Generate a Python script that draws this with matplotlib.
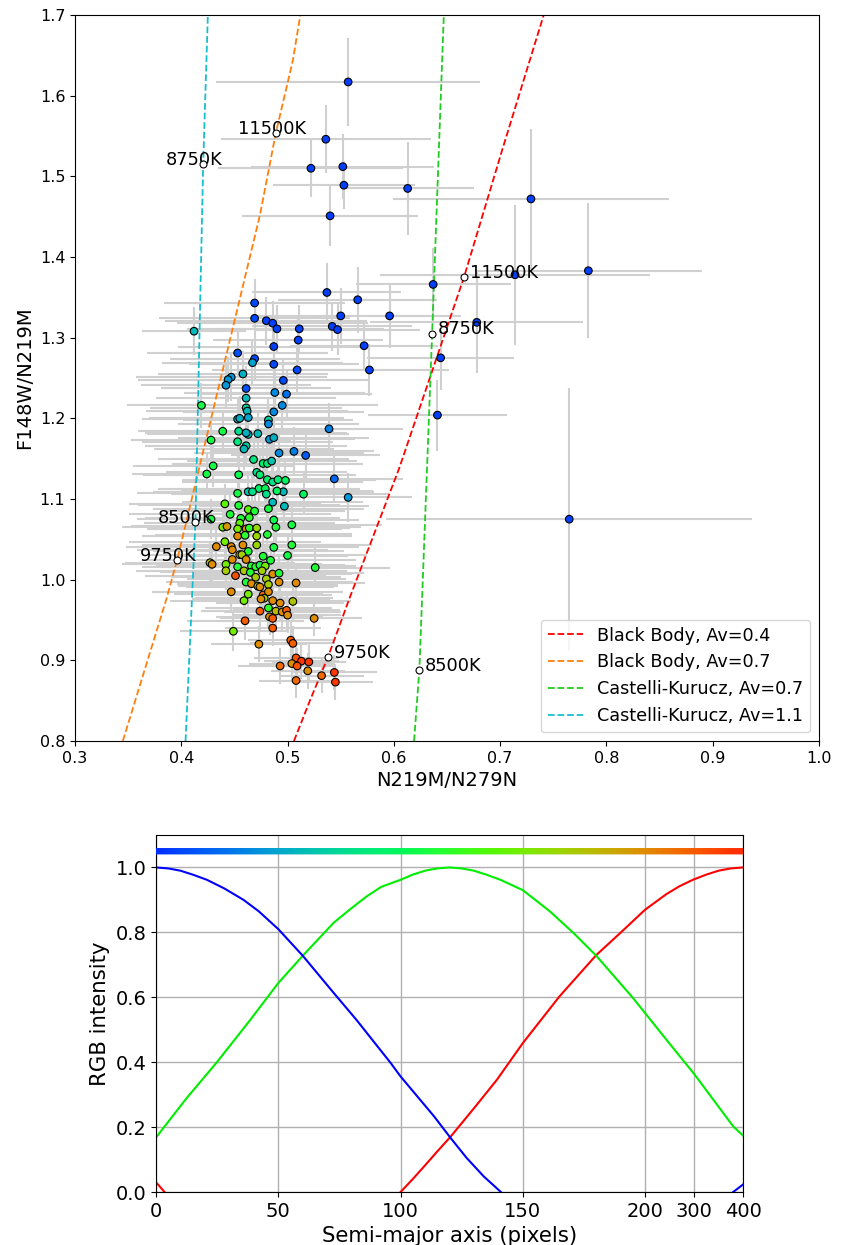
import numpy as np
import matplotlib
matplotlib.use("Agg")
import matplotlib.pyplot as plt

# ---------------- colour curves (bottom panel), u = display coordinate of semi-major axis
red_u = [0, 3.5, 50, 100, 105, 110, 115, 120.4, 130, 139.4, 150, 165, 180, 189.8, 200, 208.7, 214, 219.5, 225, 230, 235, 240]
red_v = [0.03, 0.0, np.nan, 0.0, 0.04, 0.082, 0.125, 0.17, 0.258, 0.346, 0.459, 0.603, 0.73, 0.798, 0.870, 0.918, 0.942, 0.962, 0.978, 0.99, 0.997, 1.0]
grn_u = [0, 12.6, 24.9, 38.5, 50, 60, 72.7, 80, 86, 92, 100, 105, 110, 115, 120, 125, 130, 135, 140.8, 150,
         161, 170.7, 180, 195, 200, 208.7, 220, 236, 240]
grn_v = [0.168, 0.29, 0.40, 0.53, 0.644, 0.728, 0.83, 0.875, 0.91, 0.94, 0.962, 0.978, 0.99, 0.997, 1.0, 0.997, 0.99, 0.978, 0.962, 0.93,
         0.865, 0.798, 0.728, 0.598, 0.551, 0.469, 0.364, 0.202, 0.174]
blu_u = [0, 5, 10, 15, 20.8, 28, 35.8, 42, 50, 60, 72.7, 82, 96, 100, 113.7, 120.5, 127, 134, 141, 190, 236, 240]
blu_v = [1.0, 0.997, 0.99, 0.978, 0.962, 0.935, 0.90, 0.865, 0.81, 0.728, 0.613, 0.53, 0.397, 0.356, 0.233, 0.166, 0.105, 0.048, 0.0, np.nan, 0.0, 0.023]

tick_pos = [0, 50, 100, 150, 200, 220, 240]
tick_lab = ["0", "50", "100", "150", "200", "300", "400"]


def colour_of(u):
    u = np.asarray(u, dtype=float)
    r = np.interp(u, red_u, np.nan_to_num(red_v))
    g = np.interp(u, grn_u, np.nan_to_num(grn_v))
    b = np.interp(u, blu_u, np.nan_to_num(blu_v))
    return np.clip(np.stack([r, g, b], axis=-1), 0, 1)


# ---------------- model tracks (top panel)
bb04_x = [0.506, 0.521, 0.538, 0.558, 0.605, 0.666, 0.702, 0.741]
bb04_y = [0.80, 0.85, 0.904, 0.976, 1.138, 1.375, 1.533, 1.70]
bb07_x = [0.345, 0.386, 0.396, 0.474, 0.489, 0.505, 0.512]
bb07_y = [0.80, 0.976, 1.024, 1.452, 1.554, 1.644, 1.70]
ck07_x = [0.619, 0.624, 0.636, 0.647]
ck07_y = [0.80, 0.888, 1.305, 1.70]
ck11_x = [0.404, 0.4133, 0.4206, 0.425]
ck11_y = [0.80, 1.071, 1.515, 1.70]

# temperature markers
tm_x = [0.666, 0.538, 0.489, 0.396, 0.636, 0.624, 0.4206, 0.4133]
tm_y = [1.375, 0.904, 1.554, 1.024, 1.305, 0.888, 1.515, 1.071]
tm_lab = ["11500K", "9750K", "11500K", "9750K", "8750K", "8500K", "8750K", "8500K"]
tm_side = ["r", "r", "l", "l", "r", "r", "l", "l"]

# ---------------- observed points: upper blue group
bx = [0.557, 0.536, 0.522, 0.552, 0.553, 0.613, 0.540, 0.729, 0.783, 0.714,
      0.637, 0.678, 0.644, 0.641, 0.765, 0.537, 0.566, 0.596, 0.550, 0.480,
      0.486, 0.490, 0.511, 0.542, 0.547, 0.510, 0.487, 0.572, 0.577, 0.469,
      0.469, 0.453, 0.469, 0.487, 0.509, 0.496, 0.461, 0.517, 0.544, 0.539, 0.506]
by = [1.617, 1.546, 1.510, 1.512, 1.489, 1.485, 1.451, 1.472, 1.383, 1.378,
      1.366, 1.319, 1.275, 1.204, 1.075, 1.356, 1.347, 1.327, 1.327, 1.321,
      1.318, 1.311, 1.311, 1.314, 1.310, 1.297, 1.289, 1.290, 1.260, 1.343,
      1.324, 1.281, 1.274, 1.267, 1.260, 1.247, 1.237, 1.154, 1.125, 1.187, 1.159]
bxe = [0.124, 0.099, 0.087, 0.086, 0.067, 0.062, 0.083, 0.130, 0.107, 0.127,
       0.073, 0.100, 0.069, 0.065, 0.172, 0.070, 0.075, 0.067, 0.080, 0.095,
       0.090, 0.085, 0.080, 0.075, 0.078, 0.080, 0.090, 0.070, 0.075, 0.085,
       0.090, 0.085, 0.080, 0.080, 0.080, 0.080, 0.080, 0.070, 0.065, 0.070, 0.075]
bye = [0.054, 0.042, 0.036, 0.040, 0.030, 0.058, 0.037, 0.087, 0.084, 0.087,
       0.045, 0.063, 0.040, 0.044, 0.163, 0.036, 0.041, 0.040, 0.035, 0.030,
       0.028, 0.030, 0.030, 0.030, 0.032, 0.028, 0.028, 0.030, 0.032, 0.030,
       0.028, 0.028, 0.028, 0.028, 0.028, 0.028, 0.028, 0.030, 0.030, 0.032, 0.030]
bu = [8, 8, 8, 8, 8, 8, 8, 8, 8, 8,
      8, 8, 8, 8, 8, 8, 8, 8, 8, 8,
      8, 8, 8, 8, 8, 8, 8, 8, 8, 12,
      12, 15, 12, 12, 12, 12, 15, 20, 25, 35, 35]

# ---------------- observed points: teal / green upper cloud
tx = [0.412, 0.467, 0.458, 0.447, 0.444, 0.442, 0.488, 0.499, 0.495, 0.461,
      0.419, 0.461, 0.487, 0.462, 0.453, 0.455, 0.463, 0.482, 0.463, 0.482,
      0.439, 0.454, 0.461, 0.472, 0.483, 0.487, 0.428, 0.453, 0.461, 0.459,
      0.492, 0.468, 0.477, 0.481, 0.485, 0.430, 0.424, 0.454, 0.471, 0.474,
      0.481, 0.486, 0.491, 0.498, 0.557, 0.515, 0.496, 0.490, 0.473, 0.479,
      0.463, 0.467, 0.453, 0.480]
ty = [1.308, 1.269, 1.255, 1.251, 1.248, 1.241, 1.232, 1.230, 1.216, 1.225,
      1.216, 1.213, 1.208, 1.209, 1.199, 1.200, 1.201, 1.198, 1.180, 1.193,
      1.184, 1.184, 1.182, 1.181, 1.174, 1.176, 1.173, 1.171, 1.166, 1.162,
      1.157, 1.149, 1.144, 1.144, 1.147, 1.141, 1.131, 1.130, 1.133, 1.130,
      1.124, 1.121, 1.124, 1.123, 1.102, 1.106, 1.109, 1.110, 1.113, 1.113,
      1.109, 1.109, 1.107, 1.106]
txe = [0.049, 0.085, 0.080, 0.090, 0.085, 0.080, 0.085, 0.080, 0.090, 0.085,
       0.070, 0.090, 0.085, 0.095, 0.090, 0.085, 0.090, 0.080, 0.095, 0.085,
       0.080, 0.090, 0.095, 0.085, 0.080, 0.090, 0.075, 0.090, 0.095, 0.085,
       0.080, 0.090, 0.085, 0.090, 0.080, 0.075, 0.070, 0.090, 0.085, 0.090,
       0.080, 0.085, 0.090, 0.085, 0.060, 0.080, 0.085, 0.090, 0.095, 0.085,
       0.090, 0.085, 0.095, 0.090]
tye = [0.030, 0.028, 0.028, 0.030, 0.028, 0.028, 0.028, 0.030, 0.028, 0.028,
       0.028, 0.026, 0.028, 0.026, 0.026, 0.028, 0.026, 0.028, 0.026, 0.028,
       0.026, 0.026, 0.028, 0.026, 0.026, 0.028, 0.028, 0.026, 0.026, 0.026,
       0.028, 0.026, 0.026, 0.026, 0.028, 0.026, 0.026, 0.026, 0.026, 0.026,
       0.026, 0.026, 0.026, 0.026, 0.030, 0.026, 0.026, 0.026, 0.026, 0.026,
       0.026, 0.026, 0.026, 0.026]
tu = [60, 50, 55, 45, 45, 45, 40, 30, 40, 60,
      110, 75, 40, 60, 60, 55, 50, 70, 60, 40,
      110, 80, 55, 60, 45, 55, 110, 85, 70, 60,
      40, 85, 95, 90, 65, 110, 110, 105, 80, 90,
      95, 80, 90, 100, 45, 100, 60, 100, 95, 100,
      65, 80, 110, 80]

# ---------------- observed points: lower cloud (green -> red)
cx = [0.486, 0.497, 0.441, 0.454, 0.463, 0.469, 0.482, 0.446, 0.456, 0.464,
      0.487, 0.428, 0.504, 0.455, 0.439, 0.443, 0.453, 0.461, 0.464, 0.471,
      0.489, 0.453, 0.460, 0.471, 0.481, 0.441, 0.433, 0.447, 0.458, 0.471,
      0.487, 0.504, 0.448, 0.455, 0.463, 0.477, 0.500, 0.427, 0.429, 0.442,
      0.448, 0.453, 0.457, 0.461, 0.466, 0.470, 0.474, 0.479, 0.484, 0.526,
      0.442, 0.459, 0.465, 0.476, 0.486, 0.492, 0.451, 0.470, 0.480, 0.492,
      0.508, 0.461, 0.466, 0.472, 0.474, 0.482, 0.447, 0.463, 0.477, 0.482,
      0.478, 0.459, 0.475, 0.486, 0.493, 0.505, 0.482, 0.489, 0.495, 0.499,
      0.500, 0.474, 0.483, 0.486, 0.525, 0.460, 0.486, 0.449, 0.503, 0.505,
      0.473, 0.508, 0.513, 0.520, 0.504, 0.509, 0.493, 0.519, 0.532, 0.544,
      0.545, 0.508]
cy = [1.096, 1.091, 1.094, 1.092, 1.087, 1.085, 1.088, 1.081, 1.076, 1.077,
      1.074, 1.075, 1.068, 1.070, 1.065, 1.066, 1.063, 1.063, 1.064, 1.064,
      1.065, 1.054, 1.055, 1.054, 1.056, 1.047, 1.041, 1.041, 1.043, 1.043,
      1.040, 1.043, 1.037, 1.031, 1.035, 1.029, 1.030, 1.021, 1.019, 1.019,
      1.025, 1.016, 1.031, 1.025, 1.017, 1.016, 1.018, 1.017, 1.024, 1.015,
      1.011, 1.011, 1.009, 1.011, 1.007, 1.008, 1.005, 1.003, 1.001, 0.997,
      0.996, 0.997, 0.995, 0.992, 0.991, 0.994, 0.985, 0.982, 0.981, 0.985,
      0.977, 0.974, 0.976, 0.974, 0.971, 0.973, 0.965, 0.961, 0.960, 0.962,
      0.956, 0.961, 0.954, 0.952, 0.952, 0.949, 0.940, 0.936, 0.925, 0.921,
      0.920, 0.903, 0.899, 0.898, 0.896, 0.893, 0.893, 0.887, 0.881, 0.885,
      0.873, 0.875]
cxe = [0.085, 0.080, 0.090, 0.095, 0.090, 0.085, 0.090, 0.095, 0.090, 0.085,
       0.080, 0.070, 0.085, 0.090, 0.095, 0.090, 0.085, 0.090, 0.095, 0.085,
       0.080, 0.090, 0.085, 0.090, 0.080, 0.090, 0.085, 0.090, 0.095, 0.085,
       0.080, 0.075, 0.090, 0.085, 0.090, 0.080, 0.075, 0.080, 0.085, 0.090,
       0.085, 0.090, 0.080, 0.085, 0.090, 0.085, 0.080, 0.085, 0.080, 0.070,
       0.085, 0.080, 0.085, 0.080, 0.075, 0.080, 0.085, 0.080, 0.075, 0.070,
       0.065, 0.075, 0.070, 0.075, 0.070, 0.065, 0.075, 0.070, 0.065, 0.070,
       0.065, 0.070, 0.065, 0.060, 0.060, 0.055, 0.060, 0.055, 0.055, 0.050,
       0.050, 0.055, 0.050, 0.050, 0.045, 0.055, 0.045, 0.050, 0.040, 0.040,
       0.045, 0.040, 0.035, 0.035, 0.040, 0.035, 0.040, 0.035, 0.040, 0.040,
       0.035, 0.035]
cye = [0.024, 0.024, 0.025, 0.024, 0.024, 0.024, 0.024, 0.025, 0.024, 0.024,
       0.024, 0.025, 0.024, 0.024, 0.025, 0.024, 0.024, 0.024, 0.024, 0.024,
       0.024, 0.024, 0.024, 0.024, 0.024, 0.025, 0.025, 0.024, 0.024, 0.024,
       0.024, 0.024, 0.024, 0.024, 0.024, 0.024, 0.024, 0.025, 0.025, 0.024,
       0.024, 0.024, 0.024, 0.024, 0.024, 0.024, 0.024, 0.024, 0.024, 0.025,
       0.024, 0.024, 0.024, 0.024, 0.024, 0.024, 0.024, 0.024, 0.024, 0.024,
       0.024, 0.024, 0.024, 0.024, 0.024, 0.024, 0.024, 0.024, 0.024, 0.024,
       0.024, 0.024, 0.024, 0.024, 0.024, 0.024, 0.024, 0.024, 0.024, 0.024,
       0.022, 0.024, 0.022, 0.022, 0.022, 0.024, 0.022, 0.024, 0.022, 0.022,
       0.022, 0.022, 0.022, 0.022, 0.022, 0.022, 0.022, 0.022, 0.022, 0.022,
       0.022, 0.022]
cu = [60, 60, 140, 115, 140, 115, 110, 115, 115, 120,
      105, 110, 110, 140, 150, 195, 150, 200, 120, 165,
      115, 200, 120, 165, 115, 150, 200, 200, 200, 165,
      110, 115, 200, 185, 115, 115, 110, 175, 200, 150,
      200, 115, 170, 200, 115, 120, 110, 150, 115, 115,
      170, 170, 115, 170, 200, 115, 225, 170, 170, 200,
      200, 115, 200, 170, 200, 170, 200, 150, 215, 200,
      170, 150, 200, 200, 200, 175, 120, 180, 200, 220,
      200, 220, 200, 220, 200, 220, 220, 150, 220, 220,
      200, 225, 235, 235, 200, 225, 215, 200, 215, 235,
      235, 215]

# ---------------- assemble
px = np.array(bx + tx + cx)
py = np.array(by + ty + cy)
pxe = np.array(bxe + txe + cxe)
pye = np.array(bye + tye + cye)
pu = np.array(bu + tu + cu, dtype=float)
assert len(px) == len(py) == len(pxe) == len(pye) == len(pu)

fig = plt.figure(figsize=(8.42, 12.45), dpi=100)

# ================= top panel
ax1 = fig.add_axes([75 / 842, 1 - 741 / 1245, (819 - 75) / 842, (741 - 15) / 1245])
ax1.errorbar(px, py, xerr=pxe, yerr=pye, fmt="none", ecolor="#d0d0d0", elinewidth=1.5, zorder=1)
ax1.plot(bb04_x, bb04_y, "--", color="red", lw=1.3, label="Black Body, Av=0.4", zorder=2)
ax1.plot(bb07_x, bb07_y, "--", color="#ff7f0e", lw=1.3, label="Black Body, Av=0.7", zorder=2)
ax1.plot(ck07_x, ck07_y, "--", color="#22cc22", lw=1.3, label="Castelli-Kurucz, Av=0.7", zorder=2)
ax1.plot(ck11_x, ck11_y, "--", color="#17becf", lw=1.3, label="Castelli-Kurucz, Av=1.1", zorder=2)
ax1.scatter(px, py, c=colour_of(pu), s=30, edgecolors="black", linewidths=0.8, zorder=3)
ax1.plot(tm_x, tm_y, "o", mfc="white", mec="black", ms=5, mew=0.8, ls="none", zorder=4)
for x, y, lab, side in zip(tm_x, tm_y, tm_lab, tm_side):
    off = (4, 3) if side == "r" else (-27, 3)
    ax1.annotate(lab, (x, y), xytext=off, textcoords="offset points",
                 ha="left", va="center", fontsize=12.8)
ax1.set_xlim(0.3, 1.0)
ax1.set_ylim(0.8, 1.7)
ax1.set_xticks(np.arange(0.3, 1.01, 0.1))
ax1.set_yticks(np.arange(0.8, 1.71, 0.1))
ax1.tick_params(labelsize=11.5)
ax1.set_xlabel("N219M/N279N", fontsize=14)
ax1.set_ylabel("F148W/N219M", fontsize=14)
ax1.legend(loc="lower right", fontsize=12.7, handlelength=2.0)

# ================= bottom panel
ax2 = fig.add_axes([156 / 842, 1 - 1192 / 1245, (743 - 156) / 842, (1192 - 835) / 1245])
band_u = np.linspace(0, 240, 480)
ax2.scatter(band_u, np.full_like(band_u, 1.05), c=colour_of(band_u), s=20, linewidths=0, zorder=3)
ax2.plot(red_u, red_v, color="red", lw=1.5)
ax2.plot(grn_u, grn_v, color="#00ee00", lw=1.5)
ax2.plot(blu_u, blu_v, color="blue", lw=1.5)
ax2.set_xlim(0, 240)
ax2.set_ylim(0, 1.1)
ax2.set_xticks(tick_pos)
ax2.set_xticklabels(tick_lab)
ax2.set_yticks([0, 0.2, 0.4, 0.6, 0.8, 1.0])
ax2.grid(True, color="#b0b0b0", lw=1)
ax2.set_axisbelow(True)
ax2.tick_params(labelsize=14)
ax2.set_xlabel("Semi-major axis (pixels)", fontsize=15.3)
ax2.set_ylabel("RGB intensity", fontsize=15.3)

fig.savefig("out.png", dpi=100)
